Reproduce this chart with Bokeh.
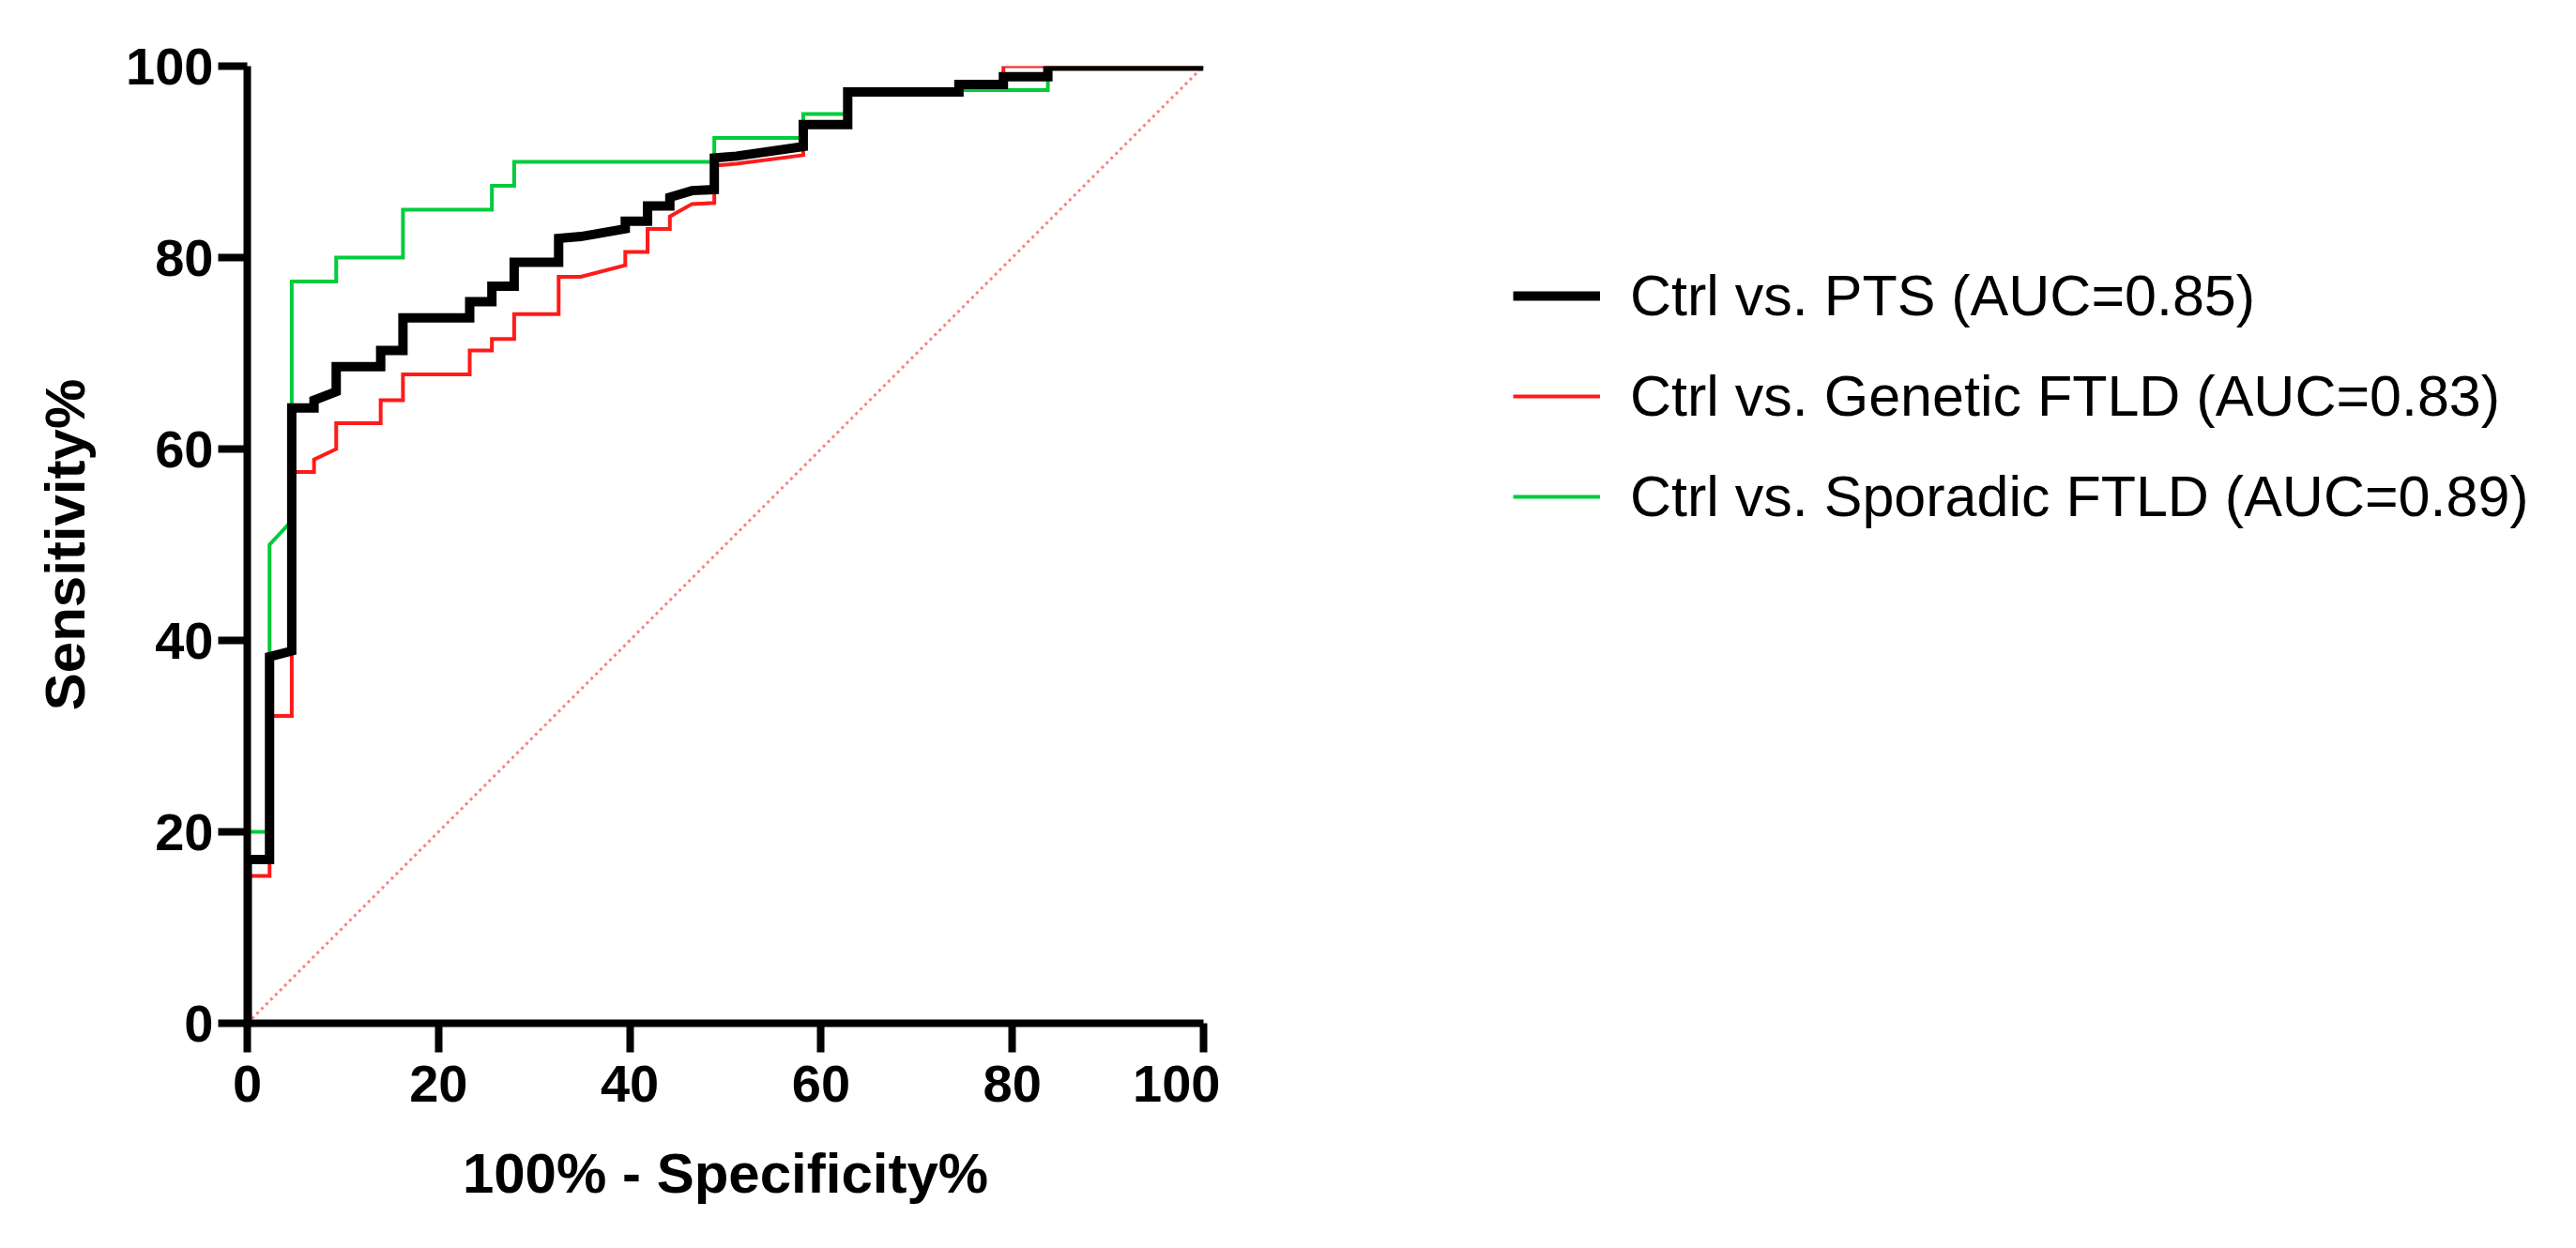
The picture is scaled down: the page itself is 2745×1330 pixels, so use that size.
from bokeh.plotting import figure
from bokeh.models import Range1d, Legend, LegendItem, FixedTicker
from bokeh.layouts import row
from bokeh.embed import file_html
from bokeh.resources import INLINE

# ---- data ----
x_ticks = [0, 20, 40, 60, 80, 100]
y_ticks = [0, 20, 40, 60, 80, 100]

pts_fpr = [0, 0, 2.33, 2.33, 4.65, 4.65, 6.98, 6.98, 9.30, 9.30, 13.95, 13.95,
           16.28, 16.28, 23.26, 23.26, 25.58, 25.58, 27.91, 27.91, 32.56, 32.56,
           34.88, 39.53, 39.53, 41.86, 41.86, 44.19, 44.19, 46.51, 48.84, 48.84,
           51.16, 58.14, 58.14, 62.79, 62.79, 74.42, 74.42, 79.07, 79.07, 83.72,
           83.72, 100]
pts_sens = [0, 17.1, 17.1, 38.3, 38.9, 64.3, 64.3, 65.1, 66.0, 68.6, 68.6, 70.3,
            70.3, 73.7, 73.7, 75.4, 75.4, 77.0, 77.0, 79.5, 79.5, 82.0,
            82.2, 83.0, 83.8, 83.8, 85.4, 85.4, 86.3, 87.0, 87.1, 90.4,
            90.6, 91.6, 93.9, 93.9, 97.3, 97.3, 98.1, 98.1, 98.9, 98.9,
            100, 100]

gen_fpr = [0, 0, 2.33, 2.33, 4.65, 4.65, 6.98, 6.98, 9.30, 9.30, 13.95, 13.95,
           16.28, 16.28, 23.26, 23.26, 25.58, 25.58, 27.91, 27.91, 32.56, 32.56,
           34.88, 39.53, 39.53, 41.86, 41.86, 44.19, 44.19, 46.51, 48.84, 48.84,
           51.16, 58.14, 58.14, 62.79, 62.79, 74.42, 74.42, 79.07, 79.07, 100]
gen_sens = [0, 15.4, 15.4, 32.1, 32.1, 57.6, 57.6, 58.9, 60.0, 62.7, 62.7, 65.1,
            65.1, 67.8, 67.8, 70.3, 70.3, 71.5, 71.5, 74.1, 74.1, 78.0,
            78.0, 79.2, 80.6, 80.6, 83.0, 83.0, 84.3, 85.6, 85.7, 89.6,
            89.8, 90.7, 93.9, 93.9, 97.3, 97.3, 98.1, 98.1, 100, 100]

spo_fpr = [0, 0, 2.33, 2.33, 4.65, 4.65, 9.30, 9.30, 16.28, 16.28, 25.58, 25.58,
           27.91, 27.91, 48.84, 48.84, 58.14, 58.14, 62.79, 62.79, 83.72, 83.72, 100]
spo_sens = [0, 20, 20, 50, 52.5, 77.5, 77.5, 80, 80, 85, 85, 87.5,
            87.5, 90, 90, 92.5, 92.5, 95, 95, 97.5, 97.5, 100, 100]

ref_x = [0, 100]
ref_y = [0, 100]

labels = ["Ctrl vs. PTS (AUC=0.85)",
          "Ctrl vs. Genetic FTLD (AUC=0.83)",
          "Ctrl vs. Sporadic FTLD (AUC=0.89)"]
colors = ["black", "#ff1a1a", "#00cc3c"]
widths = [10, 4, 4]

# ---- main ROC figure ----
p = figure(width=1300, height=1314, output_backend="svg", toolbar_location=None,
           x_range=Range1d(0, 100), y_range=Range1d(0, 100),
           min_border_left=263, min_border_right=18,
           min_border_top=70, min_border_bottom=224)
p.outline_line_color = None
p.xgrid.visible = False
p.ygrid.visible = False
p.background_fill_color = "white"

p.line(ref_x, ref_y, line_color="#ff7f7f", line_width=3, line_dash="3 4")
p.line(spo_fpr, spo_sens, line_color=colors[2], line_width=widths[2], line_join="miter")
p.line(gen_fpr, gen_sens, line_color=colors[1], line_width=widths[1], line_join="miter")
p.line(pts_fpr, pts_sens, line_color=colors[0], line_width=widths[0], line_join="miter")

for ax, ticks in ((p.xaxis[0], x_ticks), (p.yaxis[0], y_ticks)):
    ax.ticker = FixedTicker(ticks=ticks)
    ax.axis_line_width = 8
    ax.axis_line_color = "black"
    ax.major_tick_line_width = 8
    ax.major_tick_line_color = "black"
    ax.major_tick_out = 31
    ax.major_tick_in = 0
    ax.minor_tick_line_color = None
    ax.major_label_text_font = "Liberation Sans"
    ax.major_label_text_font_style = "bold"
    ax.major_label_text_font_size = "56px"
    ax.major_label_text_color = "black"
    ax.axis_label_text_font = "Liberation Sans"
    ax.axis_label_text_font_style = "bold"
    ax.axis_label_text_font_size = "60px"
    ax.axis_label_text_color = "black"

p.xaxis.axis_label = "100% - Specificity%"
p.yaxis.axis_label = "Sensitivity%"
p.xaxis.major_label_standoff = 14
p.yaxis.major_label_standoff = 5
p.xaxis.axis_label_standoff = 40
p.yaxis.axis_label_standoff = 28

# ---- legend panel (separate figure so the legend is not clipped) ----
q = figure(width=1429, height=1314, output_backend="svg", toolbar_location=None,
           x_range=Range1d(0, 1), y_range=Range1d(0, 1),
           x_axis_type=None, y_axis_type=None,
           min_border_left=0, min_border_right=0, min_border_top=70, min_border_bottom=224)
q.outline_line_color = None
q.xgrid.visible = False
q.ygrid.visible = False

nan = float("nan")
items = []
for lab, c, w in zip(labels, colors, widths):
    r = q.line([nan, nan], [nan, nan], line_color=c, line_width=w)
    items.append(LegendItem(label=lab, renderers=[r]))

legend = Legend(items=items, location=(312, 526))
legend.background_fill_alpha = 0
legend.border_line_alpha = 0
legend.padding = 0
legend.margin = 0
legend.glyph_width = 93
legend.glyph_height = 70
legend.label_height = 70
legend.label_standoff = 32
legend.spacing = 37
legend.label_text_font = "Liberation Sans"
legend.label_text_font_size = "61px"
legend.label_text_color = "black"
q.add_layout(legend)

layout = row(p, q)
open("out.html", "w").write(file_html(layout, INLINE))
